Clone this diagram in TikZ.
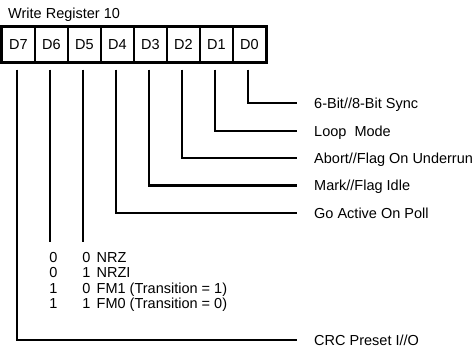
\documentclass[tikz,border=0pt]{standalone}
\usepackage{fontspec}
\setmainfont{Liberation Sans}
\begin{document}
\begin{tikzpicture}[x=1pt,y=1pt,
  every node/.style={font=\fontsize{14.5}{17}\selectfont},
  cell/.style={draw, line width=1.4pt, minimum width=33pt, minimum height=35pt, inner sep=0pt, text height=10.4pt, text depth=0pt},
  conn/.style={line width=2.2pt},
  lbl/.style={anchor=west, inner sep=0pt, text height=10.4pt, text depth=0pt},
  tv/.style={anchor=base, inner sep=0pt},
  tt/.style={anchor=base west, inner sep=0pt},
]
\useasboundingbox (0,0) rectangle (476,-347);
\node[anchor=base west, inner sep=0pt] (title) at (8,-19) {Write Register 10};
% register cells
\node[cell] (d7) at (18.5,-44.5) {D7};
\node[cell] (d6) at (51.5,-44.5) {D6};
\node[cell] (d5) at (84.5,-44.5) {D5};
\node[cell] (d4) at (117.5,-44.5) {D4};
\node[cell] (d3) at (150.5,-44.5) {D3};
\node[cell] (d2) at (183.5,-44.5) {D2};
\node[cell] (d1) at (216.5,-44.5) {D1};
\node[cell] (d0) at (249.5,-44.5) {D0};
\draw[line width=2.6pt] (d7.north west) rectangle (d0.south east);
% labels
\node[lbl] (l0) at (314,-103) {6-Bit//8-Bit Sync};
\node[lbl] (l1) at (314,-131) {Loop\ \ Mode};
\node[lbl] (l2) at (314,-158) {Abort//Flag On Underrun};
\node[lbl] (l3) at (314,-185.5) {Mark//Flag Idle};
\node[lbl] (l4) at (314,-213) {Go Active On Poll};
\node[lbl] (l7) at (314,-340) {CRC Preset I//O};
% connectors
\draw[conn, shorten >=17pt] ([xshift=-1.5pt,yshift=-7pt]d0.south) |- (l0.west);
\draw[conn, shorten >=17pt] ([xshift=-1.5pt,yshift=-7pt]d1.south) |- (l1.west);
\draw[conn, shorten >=17pt] ([xshift=-1.5pt,yshift=-7pt]d2.south) |- (l2.west);
\draw[conn, shorten >=17pt] ([xshift=-1.5pt,yshift=-7pt]d3.south) |- (l3.west);
\draw[conn, shorten >=17pt] ([xshift=-1.5pt,yshift=-7pt]d4.south) |- (l4.west);
\draw[conn, shorten >=17pt] ([xshift=-1.5pt,yshift=-7pt]d7.south) |- (l7.west);
\coordinate (e6) at (50,-242);
\coordinate (e5) at (83,-242);
\draw[conn] ([xshift=-1.5pt,yshift=-7pt]d6.south) -- (e6);
\draw[conn] ([xshift=-1.5pt,yshift=-7pt]d5.south) -- (e5);
% table
\node[tv] (a1) at (53.5,-262) {0}; \node[tv] (b1) at (86.5,-262) {0}; \node[tt] (c1) at (96.5,-262) {NRZ};
\node[tv] (a2) at (53.5,-277.5) {0}; \node[tv] (b2) at (86.5,-277.5) {1}; \node[tt] (c2) at (96.5,-277.5) {NRZI};
\node[tv] (a3) at (53.5,-293) {1}; \node[tv] (b3) at (86.5,-293) {0}; \node[tt] (c3) at (96.5,-293) {FM1 (Transition = 1)};
\node[tv] (a4) at (53.5,-308.5) {1}; \node[tv] (b4) at (86.5,-308.5) {1}; \node[tt] (c4) at (96.5,-308.5) {FM0 (Transition = 0)};
\end{tikzpicture}
\end{document}
